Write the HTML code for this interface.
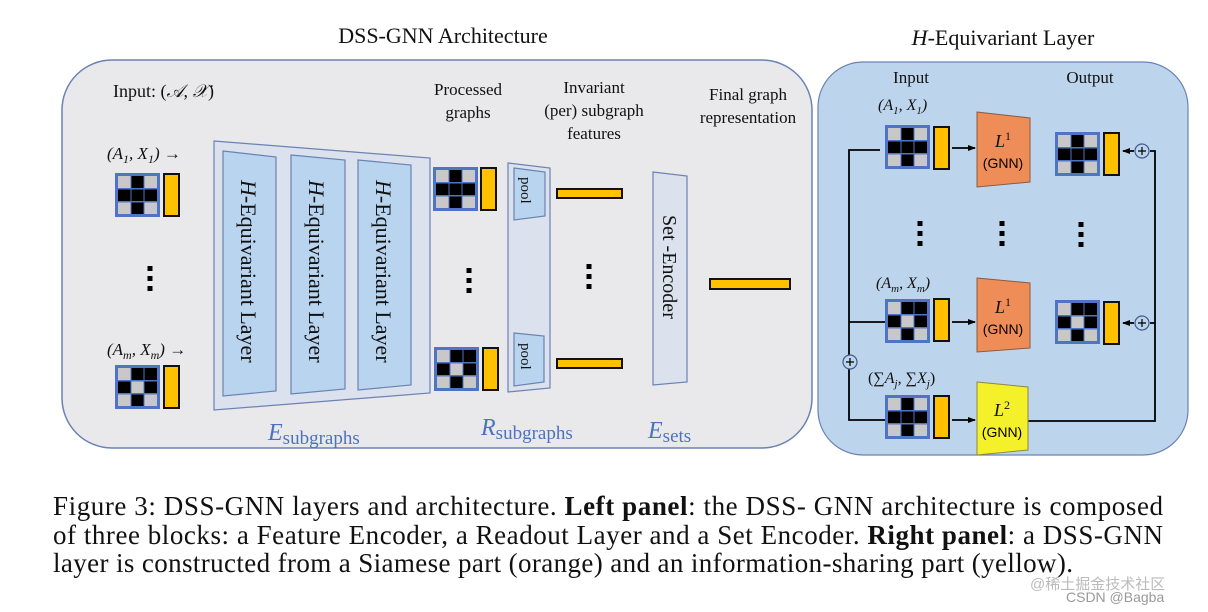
<!DOCTYPE html>
<html><head><meta charset="utf-8"><style>
html,body{margin:0;padding:0;background:#fff;}
svg{display:block;}
.t{font-family:"Liberation Serif",serif;fill:#111;}
.s{font-family:"Liberation Sans",sans-serif;}
</style></head><body>
<svg width="1208" height="612" viewBox="0 0 1208 612" xmlns="http://www.w3.org/2000/svg">
<defs>
<g id="m1">
<rect x="0" y="0" width="45" height="44" fill="#4f74c4"/>
<rect x="3" y="3" width="13" height="12" fill="#c8c8c8"/><rect x="16" y="3" width="13" height="12" fill="#000"/><rect x="29" y="3" width="13" height="12" fill="#c8c8c8"/>
<rect x="3" y="16" width="13" height="12" fill="#000"/><rect x="16" y="16" width="13" height="12" fill="#000"/><rect x="29" y="16" width="13" height="12" fill="#000"/>
<rect x="3" y="29" width="13" height="12" fill="#c8c8c8"/><rect x="16" y="29" width="13" height="12" fill="#000"/><rect x="29" y="29" width="13" height="12" fill="#c8c8c8"/>
<path d="M16 3V41M29 3V41M3 16H42M3 29H42" stroke="#4f74c4" stroke-width="1"/>
</g>
<g id="m2">
<rect x="0" y="0" width="45" height="44" fill="#4f74c4"/>
<rect x="3" y="3" width="13" height="12" fill="#c8c8c8"/><rect x="16" y="3" width="13" height="12" fill="#000"/><rect x="29" y="3" width="13" height="12" fill="#000"/>
<rect x="3" y="16" width="13" height="12" fill="#000"/><rect x="16" y="16" width="13" height="12" fill="#c8c8c8"/><rect x="29" y="16" width="13" height="12" fill="#000"/>
<rect x="3" y="29" width="13" height="12" fill="#c8c8c8"/><rect x="16" y="29" width="13" height="12" fill="#000"/><rect x="29" y="29" width="13" height="12" fill="#c8c8c8"/>
<path d="M16 3V41M29 3V41M3 16H42M3 29H42" stroke="#4f74c4" stroke-width="1"/>
</g>
<g id="bar"><rect x="1" y="1" width="15" height="42" fill="#ffc000" stroke="#111" stroke-width="2"/></g>
<g id="dots"><rect x="-2.5" y="0" width="5" height="5" fill="#000"/><rect x="-2.5" y="10" width="5" height="5" fill="#000"/><rect x="-2.5" y="20" width="5" height="5" fill="#000"/></g>
<marker id="ah" markerWidth="8" markerHeight="8" refX="7" refY="4" orient="auto" markerUnits="userSpaceOnUse"><path d="M0,1 L8,4 L0,7Z" fill="#000"/></marker>
</defs>

<text class="t" x="443" y="43" font-size="22" text-anchor="middle">DSS-GNN Architecture</text>
<text class="t" x="1003" y="45" font-size="22" text-anchor="middle"><tspan font-style="italic">H</tspan>-Equivariant Layer</text>

<rect x="62" y="60" width="750" height="388" rx="50" fill="#e9e9ec" stroke="#6b82b2" stroke-width="1.5"/>
<text class="t" x="113" y="97" font-size="18">Input:  (<tspan font-style="italic">𝒜</tspan>, <tspan font-style="italic">𝒳</tspan>)</text>
<text class="t" x="107" y="159" font-size="17" font-style="italic">(A<tspan font-size="12" dy="4">1</tspan><tspan dy="-4">, X</tspan><tspan font-size="12" dy="4">1</tspan><tspan dy="-4">) </tspan><tspan font-style="normal">→</tspan></text>
<use href="#m1" x="115" y="173"/><use href="#bar" x="163" y="173"/>
<use href="#dots" x="150" y="266"/>
<text class="t" x="107" y="355" font-size="17" font-style="italic">(A<tspan font-size="12" dy="4">m</tspan><tspan dy="-4">, X</tspan><tspan font-size="12" dy="4">m</tspan><tspan dy="-4">) </tspan><tspan font-style="normal">→</tspan></text>
<use href="#m2" x="115" y="365"/><use href="#bar" x="163" y="365"/>

<polygon points="214,141 430,158 430,393 214,410" fill="#dbe2ee" stroke="#6b82b2" stroke-width="1.2"/>
<polygon points="223,151 276,157 276,391 223,396" fill="#b9d4ef" stroke="#6b82b2" stroke-width="1.2"/>
<polygon points="291,155 345,160 345,389 291,394" fill="#b9d4ef" stroke="#6b82b2" stroke-width="1.2"/>
<polygon points="358,160 411,165 411,385 358,390" fill="#b9d4ef" stroke="#6b82b2" stroke-width="1.2"/>
<text class="t" font-size="22" transform="translate(241,180) rotate(90)"><tspan font-style="italic">H</tspan>-Equivariant Layer</text>
<text class="t" font-size="22" transform="translate(309,180) rotate(90)"><tspan font-style="italic">H</tspan>-Equivariant Layer</text>
<text class="t" font-size="22" transform="translate(376,180) rotate(90)"><tspan font-style="italic">H</tspan>-Equivariant Layer</text>
<text class="t" x="268" y="440" font-size="24" style="fill:#4a72c0" font-style="italic">E<tspan font-style="normal" font-size="19" dy="4">subgraphs</tspan></text>

<text class="t" x="468" y="95" font-size="17" text-anchor="middle">Processed</text>
<text class="t" x="468" y="118" font-size="17" text-anchor="middle">graphs</text>
<use href="#m1" x="433" y="167"/><use href="#bar" x="480" y="167"/>
<use href="#dots" x="469" y="268"/>
<use href="#m2" x="434" y="347"/><use href="#bar" x="482" y="347"/>

<polygon points="508,163 550,168 550,388 508,392" fill="#dbe2ee" stroke="#6b82b2" stroke-width="1.2"/>
<polygon points="514,168 545,172 545,216 514,220" fill="#b9d4ef" stroke="#6b82b2" stroke-width="1.2"/>
<polygon points="514,333 544,336 544,382 514,386" fill="#b9d4ef" stroke="#6b82b2" stroke-width="1.2"/>
<text class="t" font-size="15" transform="translate(521,177) rotate(90)">pool</text>
<text class="t" font-size="15" transform="translate(521,343) rotate(90)">pool</text>
<text class="t" x="481" y="435" font-size="24" style="fill:#4a72c0" font-style="italic">R<tspan font-style="normal" font-size="19" dy="4">subgraphs</tspan></text>

<text class="t" x="594" y="93" font-size="17" text-anchor="middle">Invariant</text>
<text class="t" x="594" y="116" font-size="17" text-anchor="middle">(per) subgraph</text>
<text class="t" x="594" y="139" font-size="17" text-anchor="middle">features</text>
<rect x="557" y="189" width="65" height="9" fill="#ffc000" stroke="#111" stroke-width="2"/>
<use href="#dots" x="589" y="264"/>
<rect x="557" y="359" width="65" height="9" fill="#ffc000" stroke="#111" stroke-width="2"/>

<polygon points="653,172 687,176 687,382 653,385" fill="#dbe2ee" stroke="#6b82b2" stroke-width="1.2"/>
<text class="t" font-size="20" transform="translate(663,215) rotate(90)">Set -Encoder</text>
<text class="t" x="648" y="438" font-size="24" style="fill:#4a72c0" font-style="italic">E<tspan font-style="normal" font-size="19" dy="4">sets</tspan></text>

<text class="t" x="748" y="100" font-size="17" text-anchor="middle">Final graph</text>
<text class="t" x="748" y="123" font-size="17" text-anchor="middle">representation</text>
<rect x="710" y="279" width="80" height="10" fill="#ffc000" stroke="#111" stroke-width="2"/>

<rect x="818" y="62" width="370" height="393" rx="45" fill="#bdd5ec" stroke="#6b82b2" stroke-width="1.2"/>
<text class="t" x="911" y="83" font-size="17" text-anchor="middle">Input</text>
<text class="t" x="1090" y="83" font-size="17" text-anchor="middle">Output</text>
<text class="t" x="878" y="110" font-size="16" font-style="italic">(A<tspan font-size="11" dy="4">1</tspan><tspan dy="-4">, X</tspan><tspan font-size="11" dy="4">1</tspan><tspan dy="-4">)</tspan></text>
<text class="t" x="876" y="288" font-size="16" font-style="italic">(A<tspan font-size="11" dy="4">m</tspan><tspan dy="-4">, X</tspan><tspan font-size="11" dy="4">m</tspan><tspan dy="-4">)</tspan></text>
<text class="t" x="868" y="383" font-size="16" font-style="italic"><tspan font-style="normal">(∑</tspan>A<tspan font-size="11" dy="4">j</tspan><tspan dy="-4">, </tspan><tspan font-style="normal">∑</tspan>X<tspan font-size="11" dy="4">j</tspan><tspan dy="-4" font-style="normal">)</tspan></text>

<path d="M880,150 H849 V420 H885 M849,322 H885" fill="none" stroke="#000" stroke-width="1.8"/>
<circle cx="850" cy="362" r="7" fill="#bdd5ec" stroke="#3d5b8e" stroke-width="1.2"/>
<path d="M846,362H854M850,358V366" stroke="#000" stroke-width="1.2"/>
<path d="M1028,421 H1155 V151 H1150 M1155,323 H1150" fill="none" stroke="#000" stroke-width="1.8"/>
<line x1="952" y1="148" x2="975" y2="148" stroke="#000" stroke-width="1.8" marker-end="url(#ah)"/>
<line x1="952" y1="322" x2="975" y2="322" stroke="#000" stroke-width="1.8" marker-end="url(#ah)"/>
<line x1="952" y1="420" x2="975" y2="420" stroke="#000" stroke-width="1.8" marker-end="url(#ah)"/>
<line x1="1134" y1="151" x2="1123" y2="151" stroke="#000" stroke-width="1.8" marker-end="url(#ah)"/>
<line x1="1134" y1="323" x2="1123" y2="323" stroke="#000" stroke-width="1.8" marker-end="url(#ah)"/>
<circle cx="1142" cy="151" r="7" fill="#bdd5ec" stroke="#3d5b8e" stroke-width="1.2"/>
<path d="M1138,151H1146M1142,147V155" stroke="#000" stroke-width="1.2"/>
<circle cx="1142" cy="323" r="7" fill="#bdd5ec" stroke="#3d5b8e" stroke-width="1.2"/>
<path d="M1138,323H1146M1142,319V327" stroke="#000" stroke-width="1.2"/>

<use href="#m1" x="885" y="125"/><use href="#bar" x="933" y="126"/>
<use href="#m2" x="885" y="299"/><use href="#bar" x="933" y="298"/>
<use href="#m1" x="885" y="395"/><use href="#bar" x="933" y="395"/>
<use href="#m1" x="1055" y="132"/><use href="#bar" x="1103" y="132"/>
<use href="#m2" x="1055" y="300"/><use href="#bar" x="1103" y="301"/>

<polygon points="977,112 1030,118 1030,182 977,187" fill="#ee8d58" stroke="#8a5a40" stroke-width="1"/>
<polygon points="977,278 1030,283 1030,348 977,352" fill="#ee8d58" stroke="#8a5a40" stroke-width="1"/>
<polygon points="977,382 1028,387 1028,450 977,455" fill="#f4f02a" stroke="#8a8a40" stroke-width="1"/>
<text class="t" x="1003" y="147" font-size="18" font-style="italic" text-anchor="middle">L<tspan font-size="12" dy="-7" font-style="normal">1</tspan></text>
<text class="s" x="1003" y="168" font-size="14" text-anchor="middle">(GNN)</text>
<text class="t" x="1003" y="313" font-size="18" font-style="italic" text-anchor="middle">L<tspan font-size="12" dy="-7" font-style="normal">1</tspan></text>
<text class="s" x="1003" y="334" font-size="14" text-anchor="middle">(GNN)</text>
<text class="t" x="1002" y="416" font-size="18" font-style="italic" text-anchor="middle">L<tspan font-size="12" dy="-7" font-style="normal">2</tspan></text>
<text class="s" x="1002" y="437" font-size="14" text-anchor="middle">(GNN)</text>
<use href="#dots" x="920" y="221"/>
<use href="#dots" x="1002" y="221"/>
<use href="#dots" x="1081" y="222"/>

<text class="t" x="53" y="515" font-size="27" textLength="1110" lengthAdjust="spacing">Figure 3: DSS-GNN layers and architecture. <tspan font-weight="bold">Left panel</tspan>: the DSS- GNN architecture is composed</text>
<text class="t" x="53" y="544" font-size="27" textLength="1110" lengthAdjust="spacing">of three blocks: a Feature Encoder, a Readout Layer and a Set Encoder. <tspan font-weight="bold">Right panel</tspan>: a DSS-GNN</text>
<text class="t" x="53" y="572" font-size="27" textLength="1020" lengthAdjust="spacing">layer is constructed from a Siamese part (orange) and an information-sharing part (yellow).</text>
<text x="1030" y="589" font-size="15" fill="#bbb" font-family="'Liberation Sans','Noto Sans CJK SC',sans-serif">@稀土掘金技术社区</text>
<text x="1066" y="602" font-size="14" fill="#999" font-family="'Liberation Sans',sans-serif">CSDN @Bagba</text>
</svg>
</body></html>
